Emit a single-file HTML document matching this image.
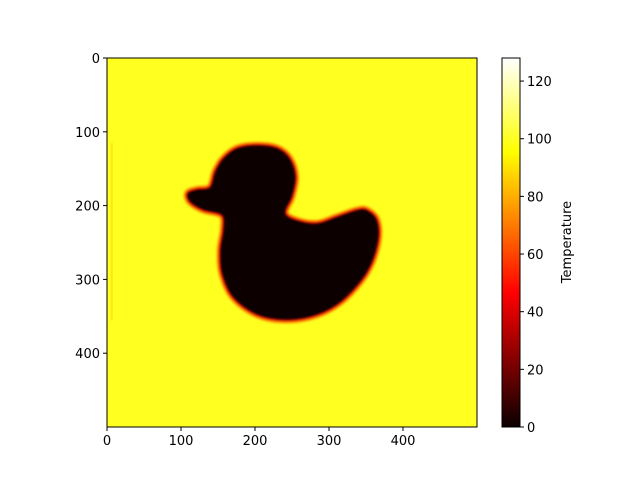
<!DOCTYPE html>
<html><head><meta charset="utf-8"><style>
body{margin:0;background:#fff}
svg text{font-family:"DejaVu Sans","Liberation Sans",sans-serif;font-size:13px;fill:#000}
</style></head><body>
<svg id="chart" width="640" height="480" xmlns="http://www.w3.org/2000/svg">
<defs>
<linearGradient id="hot" x1="0" y1="1" x2="0" y2="0">
<stop offset="0" stop-color="#0b0000"/>
<stop offset="0.365" stop-color="#ff0000"/>
<stop offset="0.746" stop-color="#ffff00"/>
<stop offset="1" stop-color="#ffffff"/>
</linearGradient>
<filter id="blur"><feGaussianBlur stdDeviation="1"/></filter>
<clipPath id="clip"><rect x="107" y="58" width="370" height="369"/></clipPath>
</defs>
<g id="plot" clip-path="url(#clip)"></g>
<g id="axes"></g>
</svg>
<script>
const xTicks=[0,100,200,300,400];
const yTicks=[0,100,200,300,400];
const cbTicks=[0,20,40,60,80,100,120];
const duckX=[241,250,255,247,230,203,176,157,146,139,122,109,112,130,155,157,153,155,170,203,243,284,319,351,366,365,351,338,311,284,257];
const duckY=[210,188,161,136,122,118,122,136,154,175,178,183,195,206,213,233,260,291,324,348,355,348,328,291,251,220,206,206,215,224,220];
const bgValue=100, duckValue=2, cbMax=128;
const NS="http://www.w3.org/2000/svg";
const sx=v=>107+v*0.74, sy=v=>58+v*0.738, cy=v=>427-v*(369/cbMax);
function mk(t,a,p){const e=document.createElementNS(NS,t);for(const k in a)e.setAttribute(k,a[k]);(p||document.getElementById('axes')).appendChild(e);return e;}
function hot(v){const f=v/cbMax;const r=Math.min(1,f/0.365),g=Math.max(0,Math.min(1,(f-0.365)/0.381)),b=Math.max(0,(f-0.746)/0.254);return `rgb(${Math.round(r*255)},${Math.round(g*255)},${Math.round(b*255)})`;}
const plot=document.getElementById('plot');
const bg=mk('rect',{x:107,y:58,width:370,height:369,fill:'#ffff20'},plot);


const stripe=mk('rect',{x:sx(5),y:sy(115),width:2,height:sy(355)-sy(115),fill:'#f0c800',opacity:0.6,filter:'url(#blur)'},plot);


const P=duckX.map((x,i)=>[sx(x),sy(duckY[i])]);const n=P.length;
let d='M'+P[0][0].toFixed(1)+','+P[0][1].toFixed(1);
for(let i=0;i<n;i++){const p0=P[(i-1+n)%n],p1=P[i],p2=P[(i+1)%n],p3=P[(i+2)%n];
const c1=[p1[0]+(p2[0]-p0[0])/6,p1[1]+(p2[1]-p0[1])/6],c2=[p2[0]-(p3[0]-p1[0])/6,p2[1]-(p3[1]-p1[1])/6];
d+=`C${c1[0].toFixed(1)},${c1[1].toFixed(1)} ${c2[0].toFixed(1)},${c2[1].toFixed(1)} ${p2[0].toFixed(1)},${p2[1].toFixed(1)}`;}
d+='Z';
const g=mk('g',{filter:'url(#blur)'},plot);


mk('path',{d:d,fill:'#ff9000',stroke:'#ff9a00','stroke-width':7,'stroke-linejoin':'round'},g);
mk('path',{d:d,fill:'#ff0000',stroke:'#ff1000','stroke-width':4,'stroke-linejoin':'round'},g);
mk('path',{d:d,fill:hot(duckValue),stroke:hot(duckValue),'stroke-width':1},g);
const frame=mk('rect',{x:107,y:58,width:370,height:369,fill:'none',stroke:'#000','stroke-width':1});


xTicks.forEach(t=>{const x=sx(t);mk('line',{x1:x,x2:x,y1:427,y2:431,stroke:'#000'});
const l=mk('text',{x:x,y:445,'text-anchor':'middle'});l.textContent=t;

});
yTicks.forEach(t=>{const y=sy(t);mk('line',{x1:103,x2:107,y1:y,y2:y,stroke:'#000'});
const l=mk('text',{x:100,y:y+5,'text-anchor':'end'});l.textContent=t;

});
const cb=mk('rect',{x:502,y:58,width:18,height:369,fill:'url(#hot)',stroke:'#000','stroke-width':1});


cbTicks.forEach(t=>{const y=cy(t);mk('line',{x1:520,x2:524,y1:y,y2:y,stroke:'#000'});
const l=mk('text',{x:527,y:y+5});l.textContent=t;

});
const ttl=mk('text',{x:571,y:242,'text-anchor':'middle',transform:'rotate(-90 571 242)'});ttl.textContent='Temperature';


</script>
</body></html>
